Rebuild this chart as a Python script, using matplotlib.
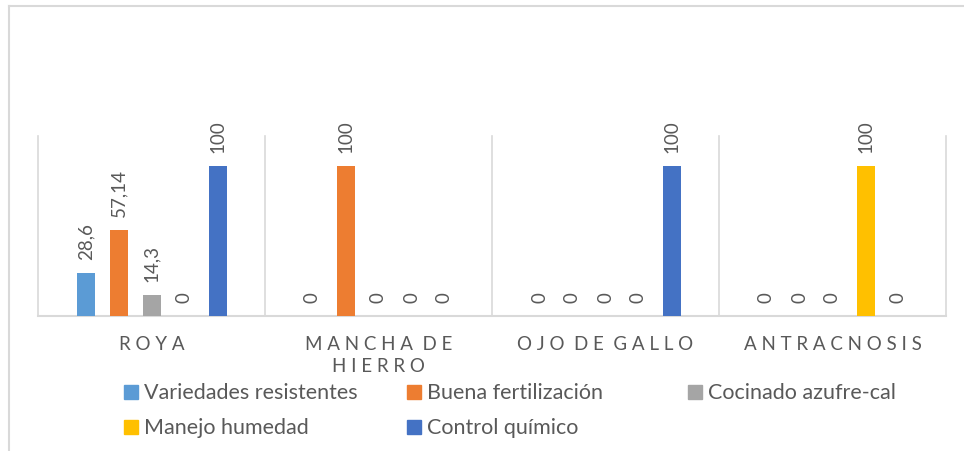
import numpy as np
import matplotlib
matplotlib.use('Agg')
import matplotlib.pyplot as plt
from matplotlib.patches import Rectangle
from matplotlib.lines import Line2D

plt.rcParams['font.family'] = ['Lato', 'DejaVu Sans']

# Data
categories = ['ROYA', 'MANCHA DE\nHIERRO', 'OJO DE GALLO', 'ANTRACNOSIS']
series_names = ['Variedades resistentes', 'Buena fertilización',
                'Cocinado azufre-cal', 'Manejo humedad', 'Control químico']
variedades = [28.6, 0, 0, 0]
fertilizacion = [57.14, 100, 0, 0]
cocinado = [14.3, 0, 0, 0]
humedad = [0, 0, 0, 100]
quimico = [100, 0, 100, 0]
series_values = [variedades, fertilizacion, cocinado, humedad, quimico]
colors = ['#5B9BD5', '#ED7D31', '#A5A5A5', '#FFC000', '#4472C4']

W, H = 964, 452
grid_col = '#D9D9D9'
text_col = '#595959'


def spaced(label):
    # Excel-style letter spacing on the category axis
    lines = []
    for line in label.split('\n'):
        lines.append('  '.join(' '.join(w) for w in line.split(' ')))
    return '\n'.join(lines)


def fmt(v):
    return f'{v:g}'.replace('.', ',')


fig = plt.figure(figsize=(W / 100, H / 100), dpi=100)
ax = fig.add_axes([38 / W, 1 - 317 / H, (946 - 38) / W, (317 - 136.6) / H])

slot = 33 / 227
bar_w = 18 / 227
x = np.arange(len(categories))

for j, (vals, col) in enumerate(zip(series_values, colors)):
    xs = x + (j - 2) * slot
    ax.bar(xs, vals, bar_w, color=col, zorder=3)
    for xi, v in zip(xs, vals):
        ax.annotate(fmt(v), (xi, v), xytext=(0, 10), textcoords='offset points',
                    rotation=90, ha='center', va='bottom', fontsize=13.5,
                    color=text_col)

ax.set_xlim(-0.5, len(categories) - 0.5)
ax.set_ylim(0, 120)
for b in np.arange(-0.5, len(categories), 1.0):
    ax.axvline(b, color=grid_col, lw=1.2, zorder=1, clip_on=False)

for s in ['top', 'left', 'right']:
    ax.spines[s].set_visible(False)
ax.spines['bottom'].set_color(grid_col)
ax.spines['bottom'].set_linewidth(1.5)
ax.set_yticks([])
ax.set_xticks(x)
ax.set_xticklabels([spaced(c) for c in categories], fontsize=13.5,
                   color=text_col, linespacing=1.3)
ax.tick_params(axis='x', length=0, pad=14)

# Legend laid out in equal-width columns, like Excel
col_x = [124, 407, 688]
row_y = [393, 428]
for i, (name, col) in enumerate(zip(series_names, colors)):
    cx = col_x[i % 3]
    cy = row_y[i // 3]
    fig.add_artist(Rectangle((cx / W, 1 - (cy + 7) / H), 14 / W, 14 / H,
                             transform=fig.transFigure, color=col))
    fig.text((cx + 20) / W, 1 - cy / H, name, fontsize=15.5, color=text_col,
             ha='left', va='center')

# Chart area border (only top and left are in view)
fig.add_artist(Line2D([9 / W, 9 / W], [0, 1 - 7 / H], color=grid_col, lw=1.5,
                      transform=fig.transFigure))
fig.add_artist(Line2D([9 / W, 1], [1 - 7 / H, 1 - 7 / H], color=grid_col,
                      lw=1.5, transform=fig.transFigure))

fig.savefig('out.png', dpi=100)
